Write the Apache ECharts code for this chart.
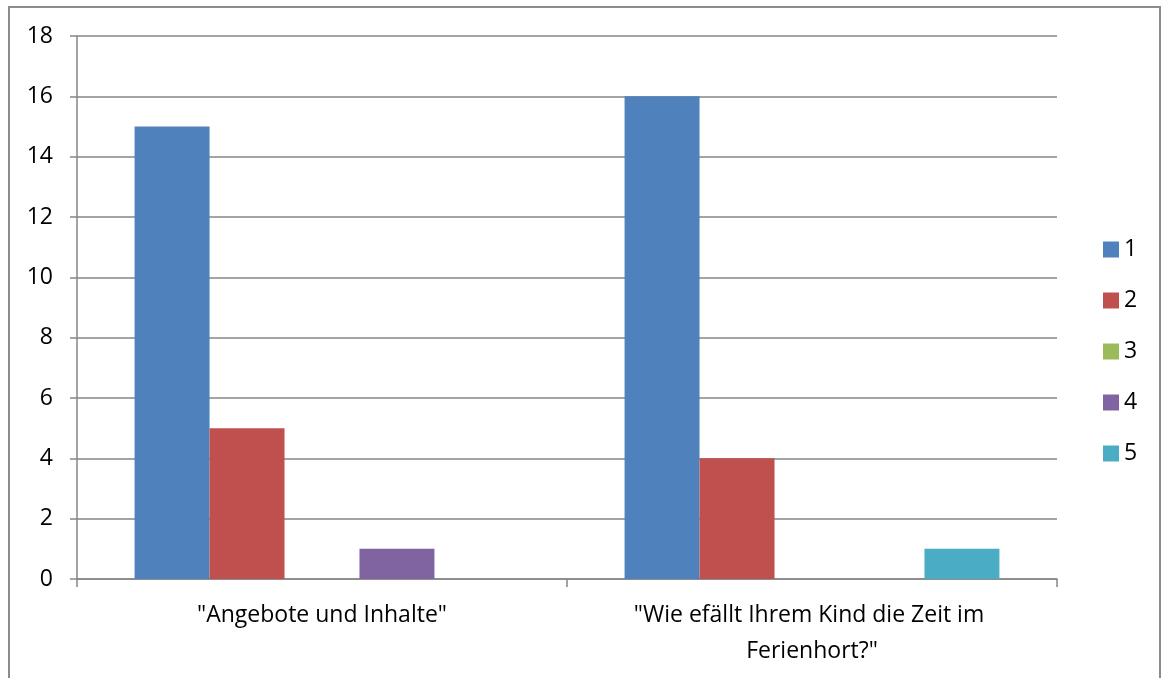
<!DOCTYPE html>
<html>
<head>
<meta charset="utf-8">
<script src="https://cdn.jsdelivr.net/npm/echarts@6/dist/echarts.min.js"></script>
<style>
html,body{margin:0;padding:0;background:#fff;}
#c{width:1166px;height:678px;}
</style>
</head>
<body>
<div id="c"></div>
<script>
const categories = ['"Angebote und Inhalte"', '"Wie efällt Ihrem Kind die Zeit im Ferienhort?"'];
const seriesNames = ['1', '2', '3', '4', '5'];
const s1 = [15, 16];
const s2 = [5, 4];
const s3 = [0, 0];
const s4 = [1, 0];
const s5 = [0, 1];
const yTicks = [0, 2, 4, 6, 8, 10, 12, 14, 16, 18];

const colors = ['#4F81BD', '#C0504D', '#9BBB59', '#8064A2', '#4BACC6'];
const values = [s1, s2, s3, s4, s5];
const font = '"Open Sans", "Noto Sans", sans-serif';

const chart = echarts.init(document.getElementById('c'));
chart.setOption({
  animation: false,
  color: colors,
  textStyle: { fontFamily: font },
  graphic: [{
    type: 'rect',
    shape: { x: 9, y: 7, width: 1151, height: 700 },
    style: { fill: 'none', stroke: '#8c8c8c', lineWidth: 2 },
    silent: true
  }],
  grid: { left: 77, top: 36, width: 980, height: 543, containLabel: false },
  legend: {
    orient: 'vertical',
    left: 1098,
    top: 233,
    itemWidth: 16,
    itemHeight: 16,
    itemGap: 28,
    icon: 'rect',
    textStyle: { fontSize: 23, lineHeight: 20, color: '#000', fontFamily: font },
    data: seriesNames
  },
  xAxis: {
    type: 'category',
    data: categories,
    axisLine: { lineStyle: { color: '#868686', width: 1.5 } },
    axisTick: { show: true, length: 8, lineStyle: { color: '#868686', width: 1.5 } },
    axisLabel: {
      interval: 0,
      color: '#000', fontSize: 23, fontFamily: font, margin: 18,
      width: 440, overflow: 'break', lineHeight: 36, align: 'center'
    }
  },
  yAxis: {
    type: 'value',
    min: 0, max: 18, interval: 2,
    axisLine: { show: true, lineStyle: { color: '#868686', width: 1.5 } },
    axisTick: { show: true, length: 7, lineStyle: { color: '#868686', width: 1.5 } },
    splitLine: { lineStyle: { color: '#868686', width: 1.5 } },
    axisLabel: {
      color: '#000', fontSize: 23, fontFamily: font, margin: 24,
      formatter: v => yTicks.includes(v) ? String(v) : ''
    }
  },
  series: seriesNames.map((n, i) => ({
    name: n,
    type: 'bar',
    data: values[i],
    barGap: '0%',
    barCategoryGap: '23.5%',
    itemStyle: { color: colors[i] }
  }))
});
</script>
</body>
</html>
